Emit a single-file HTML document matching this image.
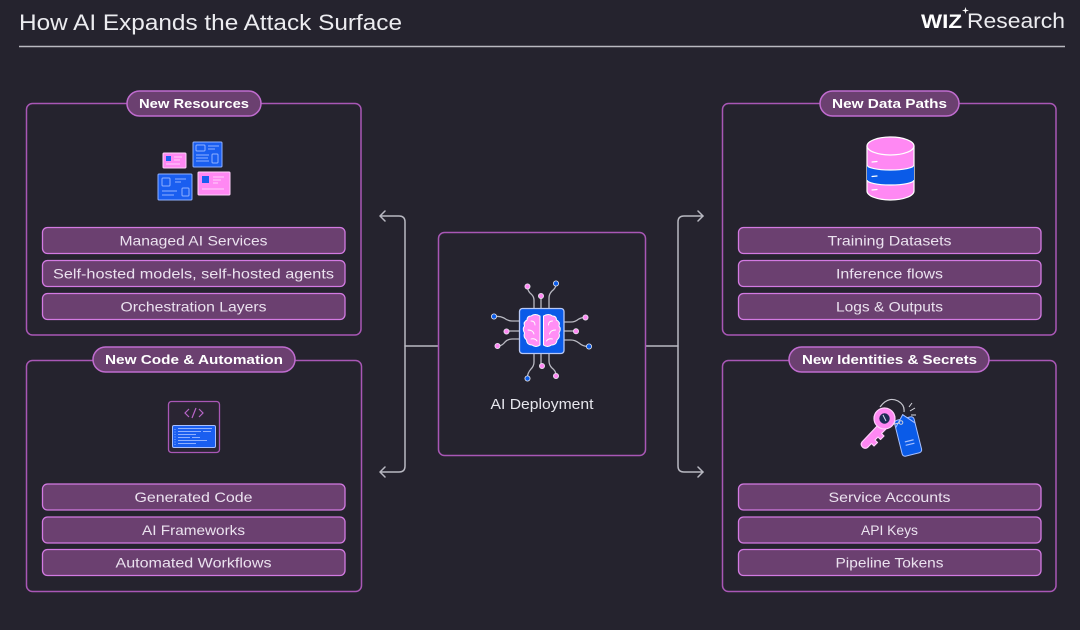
<!DOCTYPE html>
<html><head><meta charset="utf-8"><style>
html,body{margin:0;padding:0;background:#25232e;}
svg{display:block;}
text{font-family:"Liberation Sans",sans-serif;}
.it{font-size:14px;fill:#ebe2ef;text-anchor:middle;}
.pl{font-size:13px;font-weight:bold;fill:#ffffff;text-anchor:middle;}
</style></head><body>
<svg width="1080" height="630" viewBox="0 0 1080 630" xmlns="http://www.w3.org/2000/svg">
<rect width="1080" height="630" fill="#25232e"/>
<!-- header -->
<text x="19" y="30" font-size="22" fill="#ececf0" textLength="383" lengthAdjust="spacingAndGlyphs">How AI Expands the Attack Surface</text>
<line x1="19" y1="46.5" x2="1065" y2="46.5" stroke="#b9b9c0" stroke-width="1.5"/>
<text x="921" y="28" font-size="19" font-weight="bold" fill="#ffffff" textLength="41" lengthAdjust="spacingAndGlyphs">WIZ</text>
<path d="M965.5 7 L966.3 9.7 L969 10.5 L966.3 11.3 L965.5 14 L964.7 11.3 L962 10.5 L964.7 9.7Z" fill="#fff"/>
<text x="967" y="28" font-size="21" fill="#ececf0" textLength="98" lengthAdjust="spacingAndGlyphs">Research</text>

<!-- connectors -->
<g fill="none" stroke="#b9b9c2" stroke-width="1.5" stroke-linecap="round" stroke-linejoin="round">
<path d="M381 216 H399 Q405 216 405 222 V466 Q405 472 399 472 H381"/>
<path d="M385 211 L380 216 L385 221 M385 467 L380 472 L385 477"/>
<path d="M405 346 H438"/>
<path d="M703 216 H684 Q678 216 678 222 V466 Q678 472 684 472 H703"/>
<path d="M698 211 L703 216 L698 221 M698 467 L703 472 L698 477"/>
<path d="M646 346 H678"/>
</g>

<!-- panels -->
<g fill="none" stroke="#a957b6" stroke-width="1.5">
<rect x="26.5" y="103.5" width="334.5" height="231.5" rx="6"/>
<rect x="26.5" y="360.5" width="335" height="231" rx="6"/>
<rect x="722.5" y="103.5" width="333.5" height="231.5" rx="6"/>
<rect x="722.5" y="360.5" width="333.5" height="231" rx="6"/>
<rect x="438.5" y="232.5" width="207" height="223" rx="6"/>
</g>

<!-- pills -->
<g fill="#6b4070" stroke="#c06ccf" stroke-width="1.5">
<rect x="127" y="91" width="134" height="25" rx="12.5"/>
<rect x="820" y="91" width="139" height="25" rx="12.5"/>
<rect x="93" y="347" width="202" height="25" rx="12.5"/>
<rect x="789" y="347" width="200" height="25" rx="12.5"/>
</g>
<text class="pl" x="194" y="108" textLength="110" lengthAdjust="spacingAndGlyphs">New Resources</text>
<text class="pl" x="889.5" y="108" textLength="115" lengthAdjust="spacingAndGlyphs">New Data Paths</text>
<text class="pl" x="194" y="364" textLength="178" lengthAdjust="spacingAndGlyphs">New Code &amp; Automation</text>
<text class="pl" x="889.5" y="364" textLength="175" lengthAdjust="spacingAndGlyphs">New Identities &amp; Secrets</text>

<!-- items -->
<g fill="#6b4070" stroke="#d37ae2" stroke-width="1.3">
<rect x="42.5" y="227.5" width="302.5" height="26" rx="5"/>
<rect x="42.5" y="260.5" width="302.5" height="26" rx="5"/>
<rect x="42.5" y="293.5" width="302.5" height="26" rx="5"/>
<rect x="42.5" y="484" width="302.5" height="26" rx="5"/>
<rect x="42.5" y="517" width="302.5" height="26" rx="5"/>
<rect x="42.5" y="549.5" width="302.5" height="26" rx="5"/>
<rect x="738.5" y="227.5" width="302.5" height="26" rx="5"/>
<rect x="738.5" y="260.5" width="302.5" height="26" rx="5"/>
<rect x="738.5" y="293.5" width="302.5" height="26" rx="5"/>
<rect x="738.5" y="484" width="302.5" height="26" rx="5"/>
<rect x="738.5" y="517" width="302.5" height="26" rx="5"/>
<rect x="738.5" y="549.5" width="302.5" height="26" rx="5"/>
</g>
<text class="it" x="193.5" y="245.5" textLength="148" lengthAdjust="spacingAndGlyphs">Managed AI Services</text>
<text class="it" x="193.5" y="278.5" textLength="281" lengthAdjust="spacingAndGlyphs">Self-hosted models, self-hosted agents</text>
<text class="it" x="193.5" y="311.5" textLength="146" lengthAdjust="spacingAndGlyphs">Orchestration Layers</text>
<text class="it" x="193.5" y="502" textLength="118" lengthAdjust="spacingAndGlyphs">Generated Code</text>
<text class="it" x="193.5" y="535" textLength="103" lengthAdjust="spacingAndGlyphs">AI Frameworks</text>
<text class="it" x="193.5" y="567.5" textLength="156" lengthAdjust="spacingAndGlyphs">Automated Workflows</text>
<text class="it" x="889.5" y="245.5" textLength="124" lengthAdjust="spacingAndGlyphs">Training Datasets</text>
<text class="it" x="889.5" y="278.5" textLength="107" lengthAdjust="spacingAndGlyphs">Inference flows</text>
<text class="it" x="889.5" y="311.5" textLength="107" lengthAdjust="spacingAndGlyphs">Logs &amp; Outputs</text>
<text class="it" x="889.5" y="502" textLength="122" lengthAdjust="spacingAndGlyphs">Service Accounts</text>
<text class="it" x="889.5" y="535" textLength="57" lengthAdjust="spacingAndGlyphs">API Keys</text>
<text class="it" x="889.5" y="567.5" textLength="108" lengthAdjust="spacingAndGlyphs">Pipeline Tokens</text>

<!-- center label -->
<text x="542" y="409" font-size="15" fill="#e6e6ec" text-anchor="middle" textLength="103" lengthAdjust="spacingAndGlyphs">AI Deployment</text>

<!-- resource cards icon -->
<g stroke-width="1">
<rect x="163" y="153" width="23" height="15" rx="1" fill="#ff88f3" stroke="#ffd0fb"/>
<rect x="166" y="156" width="5" height="5" fill="#1a5ef0"/>
<path d="M174 157 H182 M174 160 H180 M166 164 H180" stroke="#ffd0fb"/>
<rect x="193" y="142" width="29" height="25" rx="1" fill="#1a5ef0" stroke="#90b0ff"/>
<rect x="196" y="145" width="9" height="6" rx="1" fill="none" stroke="#90b0ff"/>
<rect x="212" y="154" width="6" height="9" rx="1" fill="none" stroke="#90b0ff"/>
<path d="M208 146 H219 M208 149 H215 M196 155 H209 M196 158 H208 M196 161 H209" stroke="#90b0ff"/>
<rect x="158" y="174" width="34" height="26" rx="1" fill="#1a5ef0" stroke="#90b0ff"/>
<rect x="162" y="178" width="8" height="8" rx="1" fill="none" stroke="#90b0ff"/>
<rect x="182" y="188" width="7" height="8" rx="1" fill="none" stroke="#90b0ff"/>
<path d="M175 179 H186 M175 182 H181 M162 191 H177 M162 195 H174" stroke="#90b0ff"/>
<rect x="198" y="172" width="32" height="23" rx="1" fill="#ff88f3" stroke="#ffd0fb"/>
<rect x="202" y="176" width="7" height="7" fill="#1a5ef0"/>
<path d="M213 177 H224 M213 180 H221 M213 183 H218 M202 189 H224" stroke="#ffd0fb"/>
</g>

<!-- code icon -->
<rect x="168.5" y="401.5" width="51" height="51" rx="3" fill="#2a2533" stroke="#a957b6" stroke-width="1.3"/>
<path d="M189 409 L185 413 L189 417 M199 409 L203 413 L199 417 M196 408 L192 418" fill="none" stroke="#b865c8" stroke-width="1.2"/>
<rect x="172.5" y="425.5" width="43" height="22" rx="1.5" fill="#1a5ef0" stroke="#a6bfff" stroke-width="1"/>
<g stroke="#8fb0ff" stroke-width="1">
<path d="M175 429 V445" stroke-dasharray="1 1.5"/>
<path d="M178 428.5 H212 M178 431.5 H201 M203 431.5 H211 M178 434.5 H196 M178 437.5 H190 M192 437.5 H200 M178 440.5 H207 M178 443.5 H196"/>
</g>

<!-- database icon -->
<g stroke="#ffffff" stroke-width="1.2">
<path d="M867 146 V191 A23.5 9 0 0 0 914 191 V146" fill="#ff88f3"/>
<path d="M867 165 A23.5 5 0 0 0 914 165 V180 A23.5 5 0 0 1 867 180Z" fill="#0a5be8" stroke="none"/>
<path d="M867 165 A23.5 5 0 0 0 914 165 M867 180 A23.5 5 0 0 0 914 180" fill="none"/>
<ellipse cx="890.5" cy="146" rx="23.5" ry="9" fill="#ff88f3"/>
<path d="M872 162 L877 161.5 M872 176.5 L877 176 M872 190 L877 189.5" stroke-linecap="round"/>
</g>

<!-- key icon -->
<path d="M880 407 Q888 396 898 401 Q905 405 904 412" fill="none" stroke="#c8c8d0" stroke-width="1.2"/>
<g transform="rotate(-14 908 436)">
<rect x="898" y="418" width="20" height="37" rx="3" fill="#0a5be8" stroke="#a6bfff" stroke-width="1"/>
<path d="M898 425 L908 414 L918 425" fill="#0a5be8" stroke="#a6bfff" stroke-width="1"/>
<path d="M903.5 441 H912.5 M903.5 444.5 H912.5" stroke="#a6bfff" stroke-width="1.2"/>
</g>
<circle cx="901" cy="422.5" r="1.8" fill="none" stroke="#cfcfd8" stroke-width="1"/>
<path d="M890 425 L899 423" stroke="#cfcfd8" stroke-width="1"/>
<g stroke="#ffd0fb" stroke-width="1.2" stroke-linejoin="round">
<path d="M879 424 L862 442 Q860 445 863 447.5 Q866 449.5 868.5 446.5 L871.5 443.5 L874 446 L877.5 442.5 L875 440 L878 437 L880.5 439.5 L884 436 L881.5 433.5 L886 429Z" fill="#ff88f3"/>
<circle cx="884.5" cy="418.5" r="10.5" fill="#ff88f3"/>
</g>
<circle cx="884.5" cy="418.5" r="5.2" fill="#1d2b55"/>
<path d="M883 415 L886 421" stroke="#dde" stroke-width="1"/>
<path d="M910 411 L915 408 M911 415 L916 415 M909 407 L912 403" stroke="#d8d8e0" stroke-width="1"/>

<!-- brain chip -->
<g fill="none" stroke="#b9b9c2" stroke-width="1.3">
<path d="M534 308 V300 Q534 296 530 293 Q527.5 290 527.5 287"/>
<path d="M541 308 V297"/>
<path d="M549 308 V298 Q549 294 552 291 Q556 288 556 284"/>
<path d="M519 321 H512 Q508 321 504 318 Q500 316 495 316.5"/>
<path d="M519 331 H508"/>
<path d="M519 339 H512 Q508 339 505 342 Q502 346 498 346"/>
<path d="M564 322 H571 Q575 322 578 319.5 Q581 317.5 585 317.5"/>
<path d="M564 331 H575"/>
<path d="M564 340 H571 Q575 340 579 343 Q583 346.5 588 346.5"/>
<path d="M534 354 V362 Q534 366 531 369 Q527.5 373 527.5 377"/>
<path d="M541 354 V365"/>
<path d="M549 354 V361 Q549 365 552 368 Q556 371 556 375"/>
</g>
<g stroke="#e8e8f0" stroke-width="0.8">
<circle cx="527.5" cy="286.5" r="2.6" fill="#ff88f3"/>
<circle cx="541" cy="296" r="2.6" fill="#ff88f3"/>
<circle cx="556" cy="283.5" r="2.6" fill="#0a5be8"/>
<circle cx="494" cy="316.5" r="2.6" fill="#0a5be8"/>
<circle cx="506.5" cy="331.5" r="2.6" fill="#ff88f3"/>
<circle cx="497.5" cy="346" r="2.6" fill="#ff88f3"/>
<circle cx="585.5" cy="317.5" r="2.6" fill="#ff88f3"/>
<circle cx="576" cy="331.3" r="2.6" fill="#ff88f3"/>
<circle cx="589" cy="346.5" r="2.6" fill="#0a5be8"/>
<circle cx="527.5" cy="378.5" r="2.6" fill="#0a5be8"/>
<circle cx="542" cy="366" r="2.6" fill="#ff88f3"/>
<circle cx="556" cy="376" r="2.6" fill="#ff88f3"/>
</g>
<rect x="519.5" y="308.5" width="44.5" height="45" rx="3" fill="#0a5be8" stroke="#b8c8f5" stroke-width="1.3"/>
<g fill="#ff8ef5" stroke="#ffffff" stroke-width="1">
<path d="M540 316 Q535 313 531 316 Q527 316 527 320 Q523 322 524.5 326 Q522 329 524.5 333 Q523 337 526.5 340 Q527 345 532 345 Q536 348 540 345Z"/>
<path d="M543.5 316 Q548.5 313 552.5 316 Q556.5 316 556.5 320 Q560.5 322 559 326 Q561.5 329 559 333 Q560.5 337 557 340 Q556.5 345 551.5 345 Q547.5 348 543.5 345Z"/>
</g>
<g fill="none" stroke="#ffffff" stroke-width="0.9" stroke-linecap="round">
<path d="M531 321 Q535 321 535 325 M528 330 Q533 330 534 334 M531 339 Q535 338 537 341"/>
<path d="M552.5 321 Q548.5 321 548.5 325 M555.5 330 Q550.5 330 549.5 334 M552.5 339 Q548.5 338 546.5 341"/>
</g>
</svg>
</body></html>
